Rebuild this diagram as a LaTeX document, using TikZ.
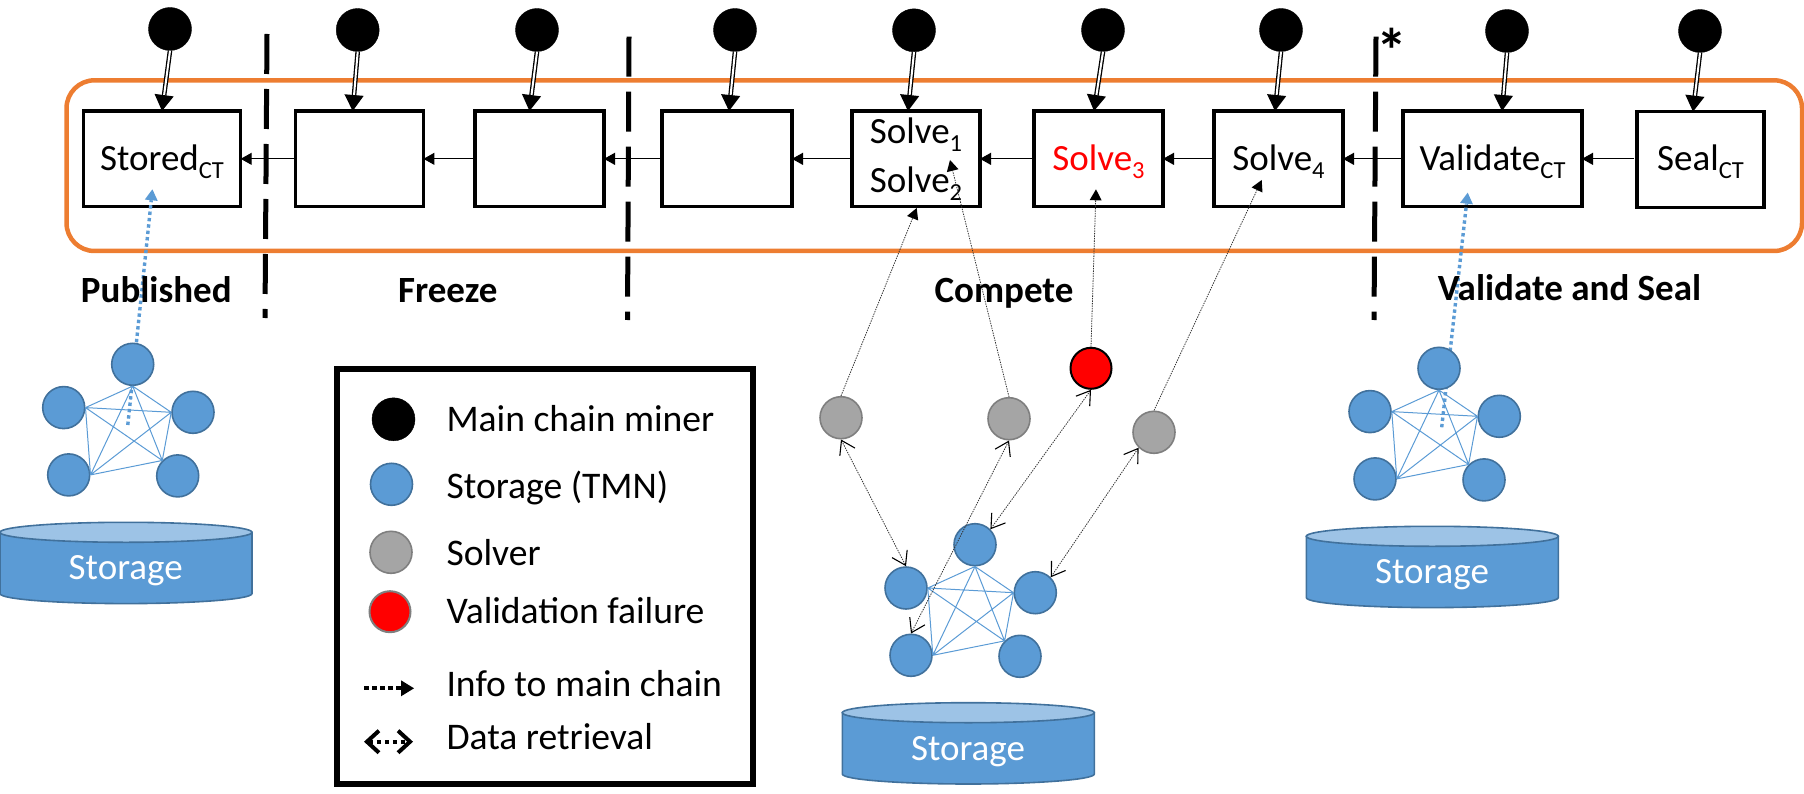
\documentclass[tikz,border=0pt]{standalone}
\usepackage{fontspec}
\setmainfont{Carlito}
\usetikzlibrary{arrows.meta}
\definecolor{tblue}{HTML}{5B9BD5}
\definecolor{tedge}{HTML}{41719C}
\definecolor{ttop}{HTML}{9DC3E6}
\definecolor{torange}{HTML}{ED7D31}
\definecolor{tgray}{HTML}{A5A5A5}
\definecolor{tgedge}{HTML}{7F7F7F}
\newcommand{\sbs}[1]{\raisebox{-8pt}{\fontsize{24.5}{24.5}\selectfont #1}}
\tikzset{
  x=1pt,y=-1pt,
  lbl/.style={font=\fontsize{37}{44}\selectfont,inner sep=0pt,outer sep=0pt},
  boldlbl/.style={lbl,font=\fontsize{37}{44}\bfseries\selectfont,anchor=base},
  legtxt/.style={lbl,font=\fontsize{37.6}{44}\selectfont,anchor=base west},
  stagebox/.style={lbl,draw=black,fill=white,line width=3.5pt,minimum height=95.7pt,text height=28pt,text depth=5pt},
  twobox/.style={lbl,draw=black,fill=white,line width=3.5pt,minimum height=95.7pt,align=center},
  miner/.style={circle,fill=black,draw=black,minimum size=43pt,inner sep=0pt},
  tmn/.style={circle,fill=tblue,draw=tedge,line width=1.6pt,minimum size=42pt,inner sep=0pt},
  solver/.style={circle,fill=tgray,draw=tgedge,line width=1.6pt,minimum size=42pt,inner sep=0pt},
  failnode/.style={circle,fill=red,draw=black,line width=2pt,minimum size=41pt,inner sep=0pt},
  flow/.style={line width=1.1pt,-{Triangle[length=11pt,width=12pt]}},
  minerarrow/.style={double=white,double distance=2pt,line width=1.3pt,-{Triangle[length=16pt,width=19pt,fill=black]}},
  phase/.style={line width=5pt,dash pattern=on 40pt off 15pt},
  mesh/.style={draw=tblue,line width=1pt},
  infoarrow/.style={draw=black!80,line width=.8pt,dash pattern=on 1.4pt off 1.1pt,-{Triangle[length=11pt,width=12pt,fill=black,line width=0pt]}},
  dataarrow/.style={draw=black!80,line width=.8pt,dash pattern=on 1.4pt off 1.1pt,{Straight Barb[length=13pt,width=17pt,line width=1.1pt,black]}-{Straight Barb[length=13pt,width=17pt,line width=1.1pt,black]}},
  bluearrow/.style={draw=tblue,line width=3.4pt,dash pattern=on 3.4pt off 3pt,-{Triangle[length=11pt,width=13pt,fill=tblue,line width=0pt]}},
  network/.pic={
    \path[draw=tedge,fill=tblue,line width=1.6pt] (842.3,712.7) -- (842.3,774)
      .. controls (842.3,780) and (905,784) .. (968.3,784)
      .. controls (1031,784) and (1094.3,780) .. (1094.3,774) -- (1094.3,712.7) -- cycle;
    \path[draw=tedge,fill=ttop,line width=1.6pt] (968.3,712.7) ellipse [x radius=126pt,y radius=10pt];
    \node[lbl,anchor=base,text=white] (-cyl) at (968,760) {Storage};
    \node[tmn] (-t) at (975,544.7) {};
    \node[tmn] (-l) at (906,588) {};
    \node[tmn] (-r) at (1035.3,592.7) {};
    \node[tmn] (-a) at (911,655.3) {};
    \node[tmn] (-b) at (1020,656.3) {};
    \draw[mesh] (-t.south) -- (-l.east) (-t.south) -- (-r.west) (-t.south) -- (-a.east) (-t.south) -- (-b.135)
      (-l.east) -- (-r.west) (-l.east) -- (-a.east) (-l.east) -- (-b.135)
      (-r.west) -- (-a.east) (-r.west) -- (-b.135) (-a.east) -- (-b.135);
  }
}
\begin{document}
\begin{tikzpicture}
\useasboundingbox (0,0) rectangle (1804,794);
\node[draw=torange,line width=4.5pt,rounded corners=28pt,minimum width=1735.5pt,minimum height=170.7pt,inner sep=0pt] (chain) at (934.25,165.65) {};

\coordinate (pa1) at (267,34); \coordinate (pa2) at (265,318);
\coordinate (pb1) at (629,36.7); \coordinate (pb2) at (627.5,320);
\coordinate (pc1) at (1376,36.7); \coordinate (pc2) at (1374,320);
\draw[phase] (pa1) -- (pa2);
\draw[phase] (pb1) -- (pb2);
\draw[phase] (pc1) -- (pc2);
\node[lbl,font=\fontsize{62}{62}\bfseries\selectfont] (star) at (1392,50) {*};

\node[stagebox,minimum width=157.4pt] (b1) at (162,158.85) {Stored\sbs{CT}};
\node[stagebox,minimum width=127.9pt] (b2) at (359.5,158.85) {};
\node[stagebox,minimum width=129pt] (b3) at (539.5,158.85) {};
\node[stagebox,minimum width=130pt] (b4) at (727,158.85) {};
\node[twobox,minimum width=128pt] (b5) at (916,158.85) {Solve\sbs{1}\\[5pt]Solve\sbs{2}};
\node[stagebox,minimum width=129pt,text=red] (b6) at (1098.5,158.85) {Solve\sbs{3}};
\node[stagebox,minimum width=129pt] (b7) at (1278.5,158.85) {Solve\sbs{4}};
\node[stagebox,minimum width=179pt] (b8) at (1492.5,158.85) {Validate\sbs{CT}};
\node[stagebox,minimum width=127pt] (b9) at (1700.5,159.5) {Seal\sbs{CT}};

\draw[flow] (b2.west) -- (b1.east);
\draw[flow] (b3.west) -- (b2.east);
\draw[flow] (b4.west) -- (b3.east);
\draw[flow] (b5.west) -- (b4.east);
\draw[flow] (b6.west) -- (b5.east);
\draw[flow] (b7.west) -- (b6.east);
\draw[flow] (b8.west) -- (b7.east);
\draw[flow,shorten <=3pt] (b9.west -| b9.west) ++(0,-0.65) -- (b8.east);

\node[miner] (m1) at (170,29) {};
\node[miner] (m2) at (357.7,30) {};
\node[miner] (m3) at (537,30) {};
\node[miner] (m4) at (735,30) {};
\node[miner] (m5) at (914,30.3) {};
\node[miner] (m6) at (1103,30) {};
\node[miner] (m7) at (1281,30) {};
\node[miner] (m8) at (1507,31) {};
\node[miner] (m9) at (1700,31) {};
\draw[minerarrow] (m1.south) -- (b1.north);
\draw[minerarrow] (m2.south) -- ([xshift=-6.8pt]b2.north);
\draw[minerarrow] (m3.south) -- ([xshift=-10pt]b3.north);
\draw[minerarrow] (m4.south) -- ([xshift=2pt]b4.north);
\draw[minerarrow] (m5.south) -- ([xshift=-8pt]b5.north);
\draw[minerarrow] (m6.south) -- ([xshift=-4.5pt]b6.north);
\draw[minerarrow] (m7.south) -- ([xshift=-3.5pt]b7.north);
\draw[minerarrow] (m8.south) -- ([xshift=9.5pt]b8.north);
\draw[minerarrow] (m9.south) -- ([xshift=-7.5pt]b9.north);

\coordinate (lfrom) at (127.8,425);
\coordinate (lto) at (152.4,189.3);
\coordinate (rfrom) at (1441.7,427.3);
\coordinate (rto) at (1467.7,192.7);
\draw[bluearrow] (lfrom) -- (lto);
\draw[bluearrow] (rfrom) -- (rto);

\pic (N) at (0,0) {network};
\pic (L) at (-842.3,-180.4) {network};
\pic (R) at (464,-176.4) {network};

\node[solver] (s1) at (841,417.7) {};
\node[solver] (s2) at (1009,418.7) {};
\node[failnode] (f) at (1091,368.3) {};
\node[solver] (s4) at (1154,432.3) {};

\coordinate (t1) at (916.7,208);
\coordinate (t2) at (950,160);
\coordinate (t3) at (1096,189.3);
\coordinate (t4) at (1261.7,180);
\draw[infoarrow] (s1.north) -- (t1);
\draw[infoarrow] (s2.north) -- (t2);
\draw[infoarrow] (f.north) -- (t3);
\draw[infoarrow] (s4.north) -- (t4);

\draw[dataarrow] (s1.south) -- (N-l.north);
\draw[dataarrow] (s2.south) -- (N-a.north);
\draw[dataarrow] (f.south) -- (N-t.north east);
\draw[dataarrow] (s4.south west) -- (N-r.north east);

\node[boldlbl] (p1) at (156.3,302.7) {Published};
\node[boldlbl] (p2) at (447.8,302.7) {Freeze};
\node[boldlbl] (p3) at (1004,302.7) {Compete};
\node[boldlbl] (p4) at (1569.5,301) {Validate and Seal};

\node[draw=black,line width=6pt,minimum width=416pt,minimum height=415pt,inner sep=0pt] (legend) at (545,576.5) {};
\node[miner] (k1) at (393.5,419.3) {};
\node[tmn] (k2) at (391.5,484.3) {};
\node[solver] (k3) at (391,552.3) {};
\node[failnode,draw=tgedge] (k4) at (390,611.7) {};
\node[legtxt] (l1) at (446.5,431) {Main chain miner};
\node[legtxt] (l2) at (446.5,498.3) {Storage (TMN)};
\node[legtxt] (l3) at (446.5,565) {Solver};
\node[legtxt] (l4) at (446.5,623.3) {Validation failure};
\node[legtxt] (l5) at (446.5,696.7) {Info to main chain};
\node[legtxt] (l6) at (446.5,749) {Data retrieval};
\coordinate (i1) at (364,688.3); \coordinate (i2) at (414,688.3);
\coordinate (d1) at (364,741.7); \coordinate (d2) at (413,741.7);
\draw[line width=4pt,dash pattern=on 4.5pt off 3.5pt,-{Triangle[length=13pt,width=16pt,fill=black,line width=0pt]}] (i1) -- (i2);
\draw[line width=4pt,dash pattern=on 4.5pt off 3.5pt,{Straight Barb[length=12pt,width=22pt,line width=4pt]}-{Straight Barb[length=12pt,width=22pt,line width=4pt]}] (d1) -- (d2);
\end{tikzpicture}
\end{document}
